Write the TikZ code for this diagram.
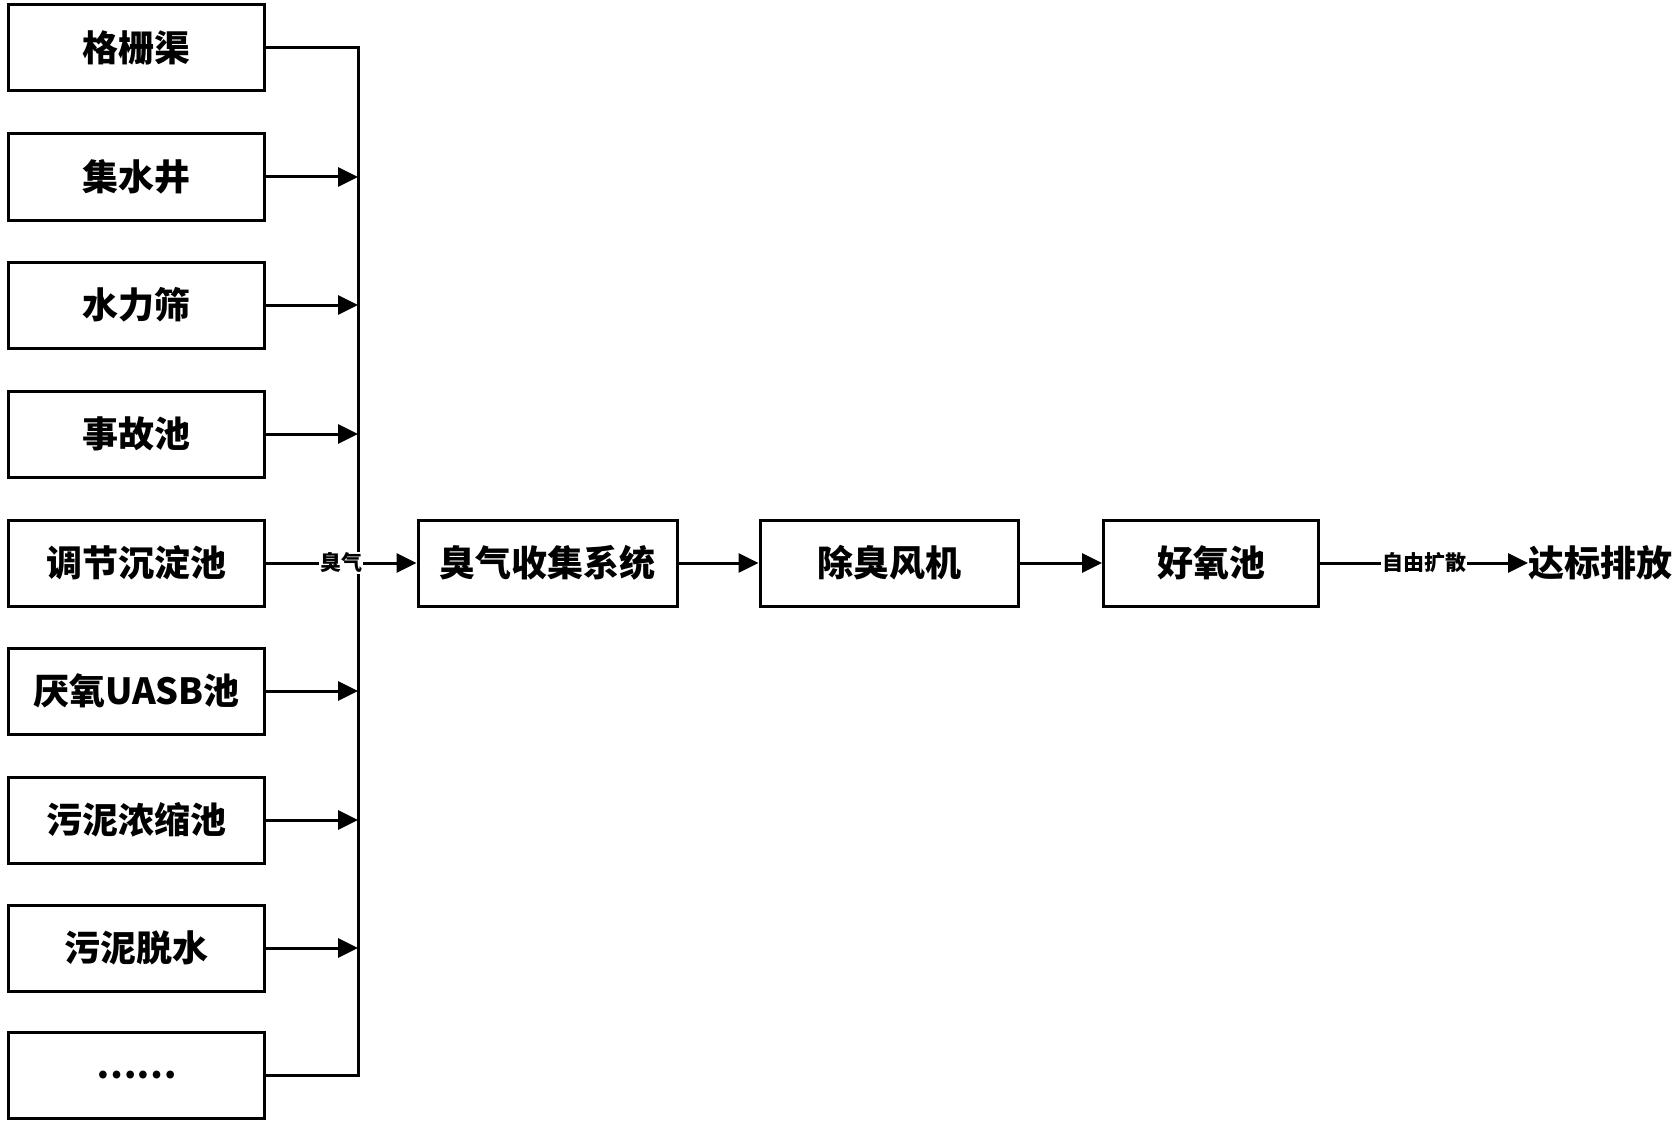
\documentclass[tikz,border=0pt]{standalone}
\usepackage{fontspec}
\newfontfamily\cjk{Noto Sans CJK SC}
\usetikzlibrary{arrows.meta,calc}
\begin{document}
\begin{tikzpicture}[x=1pt,y=-1pt,
  box/.style={draw,line width=3pt,minimum width=256pt,minimum height=86pt,inner sep=0pt,font=\cjk\bfseries\fontsize{36pt}{40pt}\selectfont},
  lbl/.style={fill=white,inner sep=1pt,font=\cjk\bfseries\fontsize{21pt}{24pt}\selectfont},
  ln/.style={line width=3pt},
  arr/.style={line width=3pt,-{Triangle[length=20pt,width=19pt]}}]
\useasboundingbox (0,0) rectangle (1677,1126);
\node[box] (b1) at (136.5,48) {格栅渠};
\node[box] (b2) at (136.5,177) {集水井};
\node[box] (b3) at (136.5,305) {水力筛};
\node[box] (b4) at (136.5,434) {事故池};
\node[box] (b5) at (136.5,563) {调节沉淀池};
\node[box] (b6) at (136.5,691) {厌氧UASB池};
\node[box] (b7) at (136.5,820) {污泥浓缩池};
\node[box] (b8) at (136.5,948) {污泥脱水};
\node[box] (b9) at (136.5,1075) {……};
\coordinate (spine) at (358,0);
\node[box,minimum width=259pt] (m1) at (547.5,563) {臭气收集系统};
\node[box,minimum width=258pt] (m2) at (889,563) {除臭风机};
\node[box,minimum width=215pt] (m3) at (1211,563) {好氧池};
\node[inner sep=0pt,anchor=west,font=\cjk\bfseries\fontsize{36pt}{40pt}\selectfont] (out) at (1528,563) {达标排放};
\draw[ln] (b1.east) -- (b1.east -| spine) -- (b9.east -| spine) -- (b9.east);
\foreach \b in {b2,b3,b4,b6,b7,b8}{
  \draw[arr] (\b.east) -- (\b.east -| spine);
}
\draw[arr] (b5.east) -- node[lbl] {臭气} (m1.west);
\draw[arr] (m1.east) -- (m2.west);
\draw[arr] (m2.east) -- (m3.west);
\draw[arr] (m3.east) -- node[lbl] {自由扩散} (out.west);
\end{tikzpicture}
\end{document}
